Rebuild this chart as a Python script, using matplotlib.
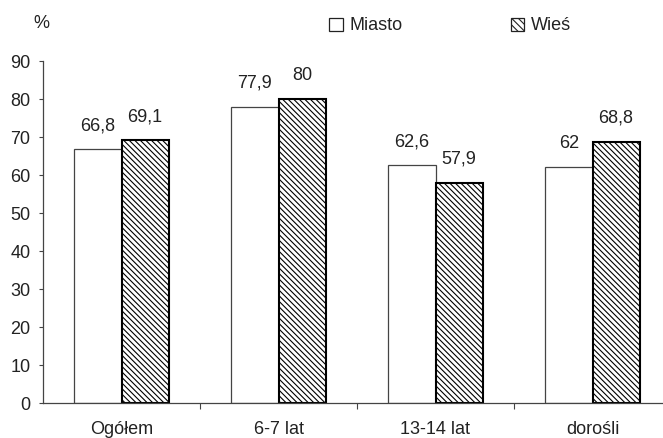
import matplotlib
matplotlib.use("Agg")
import matplotlib.pyplot as plt
import numpy as np
from matplotlib.patches import Patch

plt.rcParams['font.family'] = ['Liberation Sans', 'DejaVu Sans']
plt.rcParams['hatch.linewidth'] = 0.8

categories = ["Ogółem", "6-7 lat", "13-14 lat", "dorośli"]
miasto = [66.8, 77.9, 62.6, 62.0]
wies = [69.1, 80.0, 57.9, 68.8]
series_names = ["Miasto", "Wieś"]
yticks = [0, 10, 20, 30, 40, 50, 60, 70, 80, 90]

W, H = 663, 438
fig = plt.figure(figsize=(W / 100, H / 100), dpi=100)
ax = fig.add_axes([43 / W, 35 / H, 628 / W, 342 / H])

x = np.arange(len(categories))
bw = 0.30
txt = '#222222'
fs = 13
hatch = '\\' * 6

b1 = ax.bar(x - bw / 2, miasto, bw, color='white', edgecolor='#444444', linewidth=0.9)
b2 = ax.bar(x + bw / 2, wies, bw, color='white', edgecolor='black', linewidth=1.5,
            hatch=hatch)

def fmt(v):
    return f"{v:g}".replace('.', ',')

for bars, vals in ((b1, miasto), (b2, wies)):
    for rect, v in zip(bars, vals):
        ax.annotate(fmt(v), (rect.get_x() + rect.get_width() / 2, v),
                    xytext=(0, 17), textcoords='offset points',
                    ha='center', va='center', fontsize=fs, color=txt)

ax.set_xlim(-0.5, len(categories) - 0.5)
ax.set_ylim(0, 90)
ax.set_yticks(yticks)
ax.tick_params(axis='y', direction='out', length=3, width=0.8, pad=6,
               labelsize=fs, colors='#444444', labelcolor=txt)

# category boundaries as major ticks, labels on minor ticks at the centres
ax.set_xticks(np.arange(0.5, len(categories) - 0.5, 1.0))
ax.set_xticklabels([])
ax.set_xticks(x, minor=True)
ax.set_xticklabels(categories, minor=True)
ax.tick_params(axis='x', which='major', direction='out', length=4, width=0.8,
               colors='#444444')
ax.tick_params(axis='x', which='minor', length=0, pad=13, labelsize=fs,
               labelcolor=txt)

for s in ('top', 'right'):
    ax.spines[s].set_visible(False)
for s in ('left', 'bottom'):
    ax.spines[s].set_color('#444444')
    ax.spines[s].set_linewidth(0.9)

fig.text(41 / W, 1 - 23 / H, "%", ha='center', va='center', fontsize=fs, color=txt)

handles = [Patch(facecolor='white', edgecolor='#222222', linewidth=0.9),
           Patch(facecolor='white', edgecolor='#222222', linewidth=0.9, hatch='\\' * 5)]
fig.legend(handles, series_names, loc='center', bbox_to_anchor=(450 / W, 1 - 26 / H),
           ncol=2, frameon=False, fontsize=fs, handlelength=0.75, handleheight=0.75,
           handletextpad=0.35, columnspacing=6.0, labelcolor=txt)

fig.savefig("out.png", dpi=100)
